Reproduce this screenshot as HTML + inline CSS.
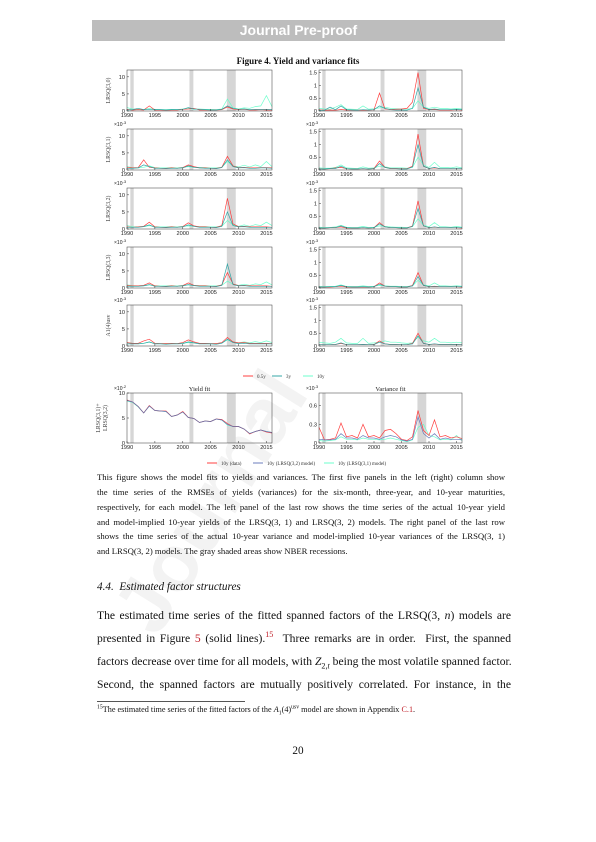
<!DOCTYPE html>
<html><head><meta charset="utf-8">
<style>
body{margin:0;background:#fff;}
#page{position:relative;width:596px;height:842px;overflow:hidden;background:#fff;font-family:"Liberation Serif",serif;color:#111;}
.hdr{position:absolute;left:92px;top:20px;width:413px;height:21px;background:#bdbdbd;color:#fff;font-family:"Liberation Sans",sans-serif;font-weight:bold;font-size:14px;text-align:center;line-height:21px;}
.ln{position:absolute;white-space:nowrap;}
.cap{font-size:8.7px;left:97px;width:408px;text-align:justify;text-align-last:justify;}
.body{font-size:11.6px;left:97px;width:414px;text-align:justify;text-align-last:justify;}
.last{text-align-last:left;}
sup{font-size:70%;line-height:0}
.red{color:#c0202a}
.wm{position:absolute;left:95px;top:600px;font-family:"Liberation Sans",sans-serif;font-weight:bold;font-size:80px;color:#f3f3f3;transform:rotate(-58deg);transform-origin:left top;white-space:nowrap;}
</style></head>
<body>
<div id="page">
<div class="wm">Journal</div>
<div class="hdr">Journal Pre-proof</div>
<div class="ln" style="left:0;width:596px;text-align:center;top:56px;font-size:9px;font-weight:bold;">Figure 4. Yield and variance fits</div>
<svg id="fig" width="596" height="480" style="position:absolute;left:0;top:0"></svg>

<div class="ln cap" style="top:472px">This figure shows the model fits to yields and variances. The first five panels in the left (right) column show</div>
<div class="ln cap" style="top:487px">the time series of the RMSEs of yields (variances) for the six-month, three-year, and 10-year maturities,</div>
<div class="ln cap" style="top:502px">respectively, for each model. The left panel of the last row shows the time series of the actual 10-year yield</div>
<div class="ln cap" style="top:517px">and model-implied 10-year yields of the LRSQ(3, 1) and LRSQ(3, 2) models. The right panel of the last row</div>
<div class="ln cap" style="top:531px">shows the time series of the actual 10-year variance and model-implied 10-year variances of the LRSQ(3, 1)</div>
<div class="ln cap last" style="top:546px">and LRSQ(3, 2) models. The gray shaded areas show NBER recessions.</div>

<div class="ln" style="left:97px;top:581px;font-size:11.2px;font-style:italic">4.4.&nbsp; Estimated factor structures</div>

<div class="ln body" style="top:609px">The estimated time series of the fitted spanned factors of the LRSQ(3, <i>n</i>) models are</div>
<div class="ln body" style="top:632px">presented in Figure <span class="red">5</span> (solid lines).<sup class="red">15</sup>&nbsp; Three remarks are in order.&nbsp; First, the spanned</div>
<div class="ln body" style="top:655px">factors decrease over time for all models, with <i>Z</i><sub style="font-size:70%">2,<i>t</i></sub> being the most volatile spanned factor.</div>
<div class="ln body" style="top:678px">Second, the spanned factors are mutually positively correlated. For instance, in the</div>
<div style="position:absolute;left:97px;top:701px;width:148px;border-top:0.6px solid #555"></div>
<div class="ln" style="left:97px;top:705px;font-size:8.2px"><sup>15</sup>The estimated time series of the fitted factors of the <i>A</i><sub style="font-size:70%">1</sub>(4)<sup>usv</sup> model are shown in Appendix <span class="red">C.1</span>.</div>
<div class="ln" style="left:0;width:596px;text-align:center;top:745px;font-size:11.2px">20</div>
</div>
<script>
// ---- chart data ----
const years = [1990,1991,1992,1993,1994,1995,1996,1997,1998,1999,2000,2001,2002,2003,2004,2005,2006,2007,2008,2009,2010,2011,2012,2013,2014,2015,2016];
const recessions = [[1990.6,1991.2],[2001.2,2001.9],[2007.9,2009.5]];
const xTicks = [1990,1995,2000,2005,2010,2015];
const yTicksLeft = [0,5,10];
const yTicksRight = [0,0.5,1,1.5];
const yTicksYield = [0,5,10];
const yTicksVar = [0,0.3,0.6];
const leftLabels = ["LRSQ(3,0)","LRSQ(3,1)","LRSQ(3,2)","LRSQ(3,3)","A1(4)usv"];
// left column (yield RMSE, x10^-3)
const L1_05 = [0.5,0.3,0.4,0.3,1.5,0.3,0.3,0.2,0.3,0.3,0.5,0.6,0.8,0.3,0.3,0.3,0.3,0.4,1.2,0.6,0.4,0.5,0.3,0.3,0.4,0.3,0.3];
const L1_3 = [0.3,0.4,0.8,0.4,0.5,0.4,0.4,0.3,0.4,0.4,0.5,1.0,0.6,0.5,0.4,0.3,0.3,0.5,1.5,0.8,0.5,0.6,0.4,0.5,0.4,0.5,0.4];
const L1_10 = [1.0,0.6,0.5,0.4,0.8,0.5,0.4,0.4,0.5,0.4,0.6,0.8,0.5,0.6,0.5,0.5,0.4,0.6,3.5,0.9,0.6,0.9,0.8,1.3,1.5,4.5,1.3];
const L2_05 = [0.8,0.6,0.7,3.0,0.8,0.6,0.5,0.5,0.6,0.5,0.7,1.5,1.0,0.6,0.6,0.5,0.5,0.8,4.0,1.2,0.7,0.8,0.6,0.6,0.7,0.7,0.6];
const L2_3 = [0.5,0.5,0.6,1.5,1.0,0.5,0.5,0.4,0.5,0.5,0.6,1.2,0.8,0.6,0.5,0.5,0.4,0.7,3.0,1.0,0.6,0.7,0.5,0.5,0.6,0.6,0.5];
const L2_10 = [1.0,0.7,0.6,0.8,1.2,0.7,0.6,0.6,0.7,0.6,0.8,1.0,0.8,0.8,0.7,0.6,0.6,0.8,2.5,1.2,0.9,1.4,0.9,1.5,1.0,2.5,1.0];
const L3_05 = [0.6,0.5,0.6,0.8,2.0,0.6,0.5,0.5,0.6,0.5,0.7,1.8,0.9,0.6,0.6,0.5,0.5,1.0,9.0,1.5,0.7,0.8,0.6,0.6,0.6,0.6,0.5];
const L3_3 = [0.5,0.5,0.5,0.7,1.2,0.5,0.5,0.4,0.5,0.5,0.6,1.2,0.8,0.5,0.5,0.5,0.4,0.8,5.0,1.0,0.6,0.7,0.5,0.5,0.5,0.5,0.5];
const L3_10 = [1.0,0.7,0.6,0.7,1.0,0.7,0.6,0.6,0.7,0.6,0.8,0.9,0.8,0.7,0.7,0.6,0.6,0.8,2.5,1.2,0.8,1.2,0.8,1.3,1.0,2.0,1.0];
const L4_05 = [0.7,0.6,0.6,0.8,1.5,0.6,0.5,0.5,0.6,0.5,0.7,1.5,0.8,0.6,0.6,0.5,0.5,0.9,4.5,1.2,0.7,0.8,0.6,0.6,0.6,0.6,0.5];
const L4_3 = [0.5,0.5,0.5,0.6,1.0,0.5,0.5,0.4,0.5,0.5,0.6,1.0,0.7,0.5,0.5,0.5,0.4,0.8,7.0,1.0,0.6,0.7,0.5,0.5,0.5,0.5,0.5];
const L4_10 = [0.9,0.7,0.6,0.7,0.9,0.7,0.6,0.6,0.7,0.6,0.8,0.9,0.8,0.7,0.7,0.6,0.6,0.8,2.0,1.1,0.8,1.1,0.8,1.2,1.0,1.8,0.9];
const L5_05 = [1.0,0.8,0.8,1.5,2.0,0.8,0.7,0.7,0.8,0.7,1.0,1.8,1.2,0.8,0.8,0.7,0.7,1.0,2.5,1.2,0.9,1.0,0.8,0.8,0.8,0.8,0.7];
const L5_3 = [0.6,0.6,0.6,0.8,1.2,0.6,0.6,0.5,0.6,0.6,0.7,1.2,0.9,0.6,0.6,0.6,0.5,0.8,2.0,1.0,0.7,0.8,0.6,0.6,0.6,0.6,0.6];
const L5_10 = [1.0,0.8,0.7,0.8,1.1,0.8,0.7,0.7,0.8,0.7,0.9,1.0,0.9,0.8,0.8,0.7,0.7,0.9,1.8,1.2,0.9,1.2,0.9,1.3,1.0,1.5,1.0];
// right column (variance RMSE, x10^-3)
const R1_05 = [0.05,0.03,0.04,0.03,0.06,0.04,0.03,0.03,0.04,0.03,0.05,0.70,0.08,0.06,0.07,0.08,0.10,0.35,1.50,0.10,0.05,0.06,0.04,0.04,0.04,0.05,0.04];
const R1_3 = [0.03,0.03,0.15,0.05,0.20,0.05,0.04,0.03,0.05,0.04,0.05,0.20,0.10,0.05,0.04,0.04,0.03,0.10,0.90,0.15,0.06,0.08,0.05,0.05,0.05,0.06,0.05];
const R1_10 = [0.10,0.08,0.07,0.15,0.25,0.08,0.07,0.06,0.20,0.07,0.09,0.12,0.15,0.10,0.09,0.08,0.07,0.10,0.40,0.15,0.10,0.15,0.10,0.10,0.08,0.10,0.08];
const R2_05 = [0.05,0.04,0.05,0.08,0.10,0.05,0.04,0.04,0.05,0.04,0.06,0.35,0.10,0.06,0.06,0.05,0.05,0.15,1.40,0.15,0.06,0.08,0.05,0.05,0.05,0.05,0.05];
const R2_3 = [0.04,0.04,0.06,0.06,0.15,0.05,0.04,0.04,0.05,0.04,0.05,0.25,0.10,0.05,0.05,0.04,0.04,0.12,1.00,0.15,0.06,0.10,0.05,0.05,0.05,0.05,0.05];
const R2_10 = [0.08,0.07,0.07,0.10,0.20,0.08,0.07,0.06,0.12,0.07,0.08,0.15,0.12,0.09,0.08,0.08,0.07,0.10,0.50,0.20,0.10,0.30,0.10,0.10,0.08,0.12,0.08];
const R3_05 = [0.04,0.04,0.05,0.06,0.08,0.04,0.04,0.04,0.05,0.04,0.05,0.25,0.08,0.05,0.05,0.04,0.04,0.12,1.10,0.12,0.05,0.07,0.05,0.05,0.05,0.05,0.04];
const R3_3 = [0.04,0.04,0.05,0.05,0.12,0.05,0.04,0.04,0.05,0.04,0.05,0.20,0.08,0.05,0.05,0.04,0.04,0.10,0.80,0.12,0.05,0.08,0.05,0.05,0.05,0.05,0.05];
const R3_10 = [0.07,0.06,0.06,0.08,0.15,0.07,0.06,0.06,0.10,0.06,0.07,0.12,0.10,0.08,0.07,0.07,0.06,0.09,0.40,0.15,0.09,0.25,0.09,0.09,0.07,0.10,0.07];
const R4_05 = [0.04,0.04,0.04,0.05,0.07,0.04,0.04,0.04,0.04,0.04,0.05,0.20,0.07,0.05,0.05,0.04,0.04,0.10,0.60,0.10,0.05,0.06,0.05,0.05,0.05,0.05,0.04];
const R4_3 = [0.04,0.04,0.05,0.05,0.10,0.05,0.04,0.04,0.05,0.04,0.05,0.15,0.07,0.05,0.05,0.04,0.04,0.08,0.45,0.10,0.05,0.07,0.05,0.05,0.05,0.05,0.05];
const R4_10 = [0.06,0.06,0.06,0.07,0.12,0.06,0.06,0.06,0.08,0.06,0.07,0.10,0.09,0.07,0.07,0.06,0.06,0.08,0.30,0.12,0.08,0.20,0.08,0.08,0.07,0.09,0.07];
const R5_05 = [0.05,0.05,0.05,0.06,0.10,0.05,0.05,0.05,0.06,0.05,0.06,0.20,0.08,0.06,0.06,0.05,0.05,0.10,0.50,0.10,0.06,0.07,0.06,0.06,0.06,0.06,0.05];
const R5_3 = [0.05,0.05,0.05,0.06,0.12,0.05,0.05,0.05,0.06,0.05,0.06,0.15,0.08,0.06,0.06,0.05,0.05,0.08,0.40,0.10,0.06,0.08,0.06,0.06,0.06,0.06,0.05];
const R5_10 = [0.15,0.12,0.10,0.15,0.30,0.12,0.10,0.10,0.30,0.10,0.12,0.15,0.20,0.15,0.15,0.12,0.10,0.12,0.35,0.20,0.15,0.30,0.15,0.15,0.12,0.15,0.12];
// bottom row
const yield10Data = [8.6,8.2,7.3,6.0,7.5,6.5,6.4,6.4,5.3,5.6,6.3,5.1,4.9,4.1,4.4,4.3,4.8,4.7,3.9,3.3,3.3,2.8,1.8,2.3,2.6,2.2,2.0];
const yield10M32 = [8.5,8.2,7.3,6.0,7.4,6.5,6.4,6.3,5.3,5.6,6.2,5.1,4.9,4.1,4.4,4.3,4.8,4.6,3.7,3.3,3.3,2.8,1.9,2.3,2.6,2.3,2.1];
const yield10M31 = [8.4,8.1,7.2,6.0,7.4,6.5,6.4,6.3,5.3,5.6,6.2,5.1,4.9,4.1,4.4,4.3,4.8,4.6,3.6,3.3,3.3,2.8,1.9,2.3,2.6,2.3,2.1];
const var10Data = [0.25,0.05,0.06,0.08,0.32,0.10,0.12,0.08,0.30,0.10,0.12,0.08,0.20,0.22,0.15,0.06,0.04,0.10,0.52,0.20,0.12,0.37,0.10,0.12,0.08,0.10,0.07];
const var10M32 = [0.06,0.05,0.05,0.06,0.15,0.08,0.08,0.06,0.12,0.08,0.08,0.06,0.10,0.12,0.10,0.05,0.03,0.06,0.42,0.15,0.08,0.15,0.06,0.08,0.06,0.06,0.05];
const var10M31 = [0.04,0.03,0.04,0.05,0.10,0.06,0.06,0.05,0.08,0.06,0.06,0.05,0.06,0.08,0.06,0.04,0.02,0.05,0.25,0.30,0.12,0.10,0.05,0.06,0.05,0.12,0.04];

const C_RED="#ff2b2b", C_TEAL="#1f9e9e", C_AQUA="#5effc8", C_BLUE="#5b6fb5";
const NS="http://www.w3.org/2000/svg";
const svg=document.getElementById('fig');
function mk(tag,attrs,parent){const e=document.createElementNS(NS,tag);for(const k in attrs)e.setAttribute(k,attrs[k]);(parent||svg).appendChild(e);return e;}

function panel(name,x0,x1,top,bot,ymax,yticks,series,opts){
  const g=mk('g',{});
  
  
  const xs=v=>x0+(v-1990)/(2016-1990)*(x1-x0);
  const ys=v=>bot-(v/ymax)*(bot-top);
  recessions.forEach(r=>{
    const rc=mk('rect',{x:xs(r[0]),y:top,width:xs(r[1])-xs(r[0]),height:bot-top,fill:'#d6d6d6'},g);
    
    
  });
  series.forEach(s=>{
    const pts=s.values.map((v,i)=>xs(years[i]).toFixed(1)+','+ys(v).toFixed(1)).join(' ');
    const pl=mk('polyline',{points:pts,fill:'none',stroke:s.color,'stroke-width':0.7,opacity:0.9},g);
    
    
  });
  const box=mk('rect',{x:x0,y:top,width:x1-x0,height:bot-top,fill:'none',stroke:'#333','stroke-width':0.5},g);
  
  
  xTicks.forEach(t=>{
    mk('line',{x1:xs(t),x2:xs(t),y1:bot,y2:bot-2,stroke:'#333','stroke-width':0.5},g);
    const tx=mk('text',{x:xs(t),y:bot+6,'font-size':5.6,'text-anchor':'middle','font-family':'Liberation Sans, sans-serif',fill:'#222'},g);
    tx.textContent=t;
    
    
  });
  yticks.forEach(t=>{
    mk('line',{x1:x0,x2:x0+2,y1:ys(t),y2:ys(t),stroke:'#333','stroke-width':0.5},g);
    const tx=mk('text',{x:x0-2,y:ys(t)+2,'font-size':5.6,'text-anchor':'end','font-family':'Liberation Sans, sans-serif',fill:'#222'},g);
    tx.textContent=t;
    
    
  });
  if(opts.exp){
    const ex=mk('text',{x:x0-13,y:top-3,'font-size':5,'font-family':'Liberation Sans, sans-serif',fill:'#222'},g);
    ex.innerHTML='×10<tspan dy="-2" font-size="4">'+opts.exp+'</tspan>';
    
    
  }
  if(opts.title){
    const tt=mk('text',{x:(x0+x1)/2,y:top-2,'font-size':6.5,'text-anchor':'middle','font-family':'Liberation Serif, serif',fill:'#222'},g);
    tt.textContent=opts.title;
    
    
  }
  if(opts.ylab){
    opts.ylab.forEach((lab,i)=>{
      const cx=opts.ylabX+i*7, cy=(top+bot)/2;
      const yl=mk('text',{x:cx,y:cy,'font-size':5.8,'text-anchor':'middle','font-family':'Liberation Serif, serif',fill:'#444',transform:'rotate(-90 '+cx+' '+cy+')'},g);
      yl.textContent=lab;
      
      
    });
  }
}
const bases=[111,170,229,288,346];
const leftSeries=[[L1_05,L1_3,L1_10],[L2_05,L2_3,L2_10],[L3_05,L3_3,L3_10],[L4_05,L4_3,L4_10],[L5_05,L5_3,L5_10]];
const rightSeries=[[R1_05,R1_3,R1_10],[R2_05,R2_3,R2_10],[R3_05,R3_3,R3_10],[R4_05,R4_3,R4_10],[R5_05,R5_3,R5_10]];
function trio(a){return [{values:a[2],color:C_AQUA,name:'series-10y'},{values:a[0],color:C_RED,name:'series-0.5y'},{values:a[1],color:C_TEAL,name:'series-3y'}];}
bases.forEach((b,i)=>{
  panel('yield-rmse-panel-'+(i+1),127,272,b-41,b,12,yTicksLeft,trio(leftSeries[i]),{exp:i>0?'-3':null,ylab:[leftLabels[i]],ylabX:110});
  panel('variance-rmse-panel-'+(i+1),319,462,b-41,b,1.6,yTicksRight,trio(rightSeries[i]),{exp:i>0?'-3':null});
});
panel('yield-fit-panel',127,272,393,443,10,yTicksYield,[
  {values:yield10M31,color:C_AQUA,name:'yield-10y-lrsq31'},{values:yield10Data,color:C_RED,name:'yield-10y-data'},{values:yield10M32,color:C_BLUE,name:'yield-10y-lrsq32'}],
  {exp:'-2',title:'Yield fit',ylab:['LRSQ(3,1)+','LRSQ(3,2)'],ylabX:100});
panel('variance-fit-panel',319,462,393,443,0.8,yTicksVar,[
  {values:var10M31,color:C_AQUA,name:'variance-10y-lrsq31'},{values:var10Data,color:C_RED,name:'variance-10y-data'},{values:var10M32,color:C_BLUE,name:'variance-10y-lrsq32'}],
  {exp:'-3',title:'Variance fit'});

function legend(items,y,name){
  const g=mk('g',{});
  
  
  items.forEach(it=>{
    mk('line',{x1:it[0],x2:it[0]+10,y1:y,y2:y,stroke:it[1],'stroke-width':0.9},g);
    const t=mk('text',{x:it[0]+14,y:y+1.8,'font-size':5,'font-family':'Liberation Serif, serif',fill:'#333'},g);
    t.textContent=it[2];
    
    
  });
}
legend([[243,C_RED,'0.5y'],[272,C_TEAL,'3y'],[303,C_AQUA,'10y']],376,'legend-maturities');
legend([[207,C_RED,'10y (data)'],[253,C_BLUE,'10y (LRSQ(3,2) model)'],[324,C_AQUA,'10y (LRSQ(3,1) model)']],463,'legend-fits');
</script>
</body></html>
